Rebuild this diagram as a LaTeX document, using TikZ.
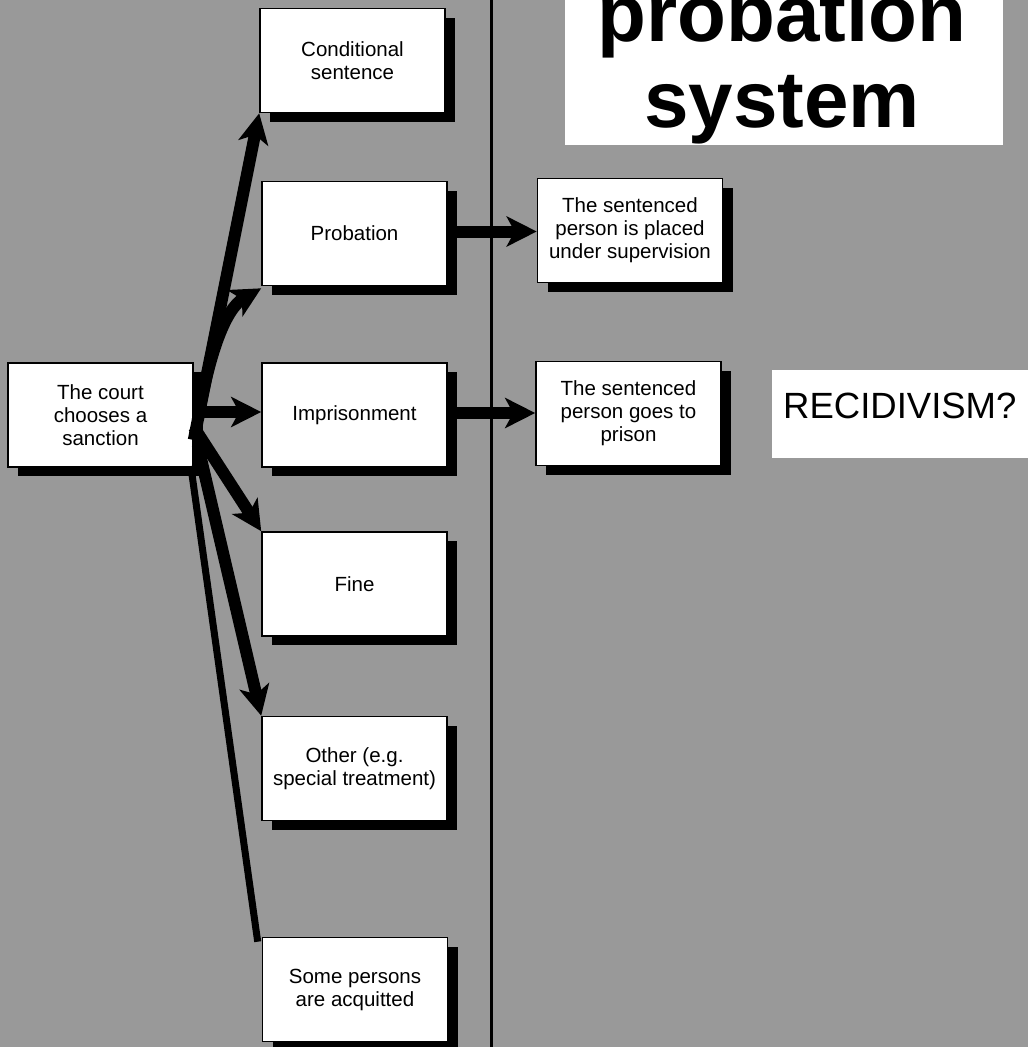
\documentclass[tikz,border=0pt]{standalone}
\usepackage{fontspec}
\setmainfont{Liberation Sans}
\usetikzlibrary{arrows.meta,shadows}
\definecolor{bg}{gray}{0.6}
\begin{document}
\begin{tikzpicture}[x=1pt,y=-1pt,
  box/.style={draw=black, line width=1.6pt, fill=white, minimum width=185pt,
    minimum height=104pt, inner sep=0pt, align=center,
    font=\fontsize{20.5}{23}\selectfont,
    drop shadow={shadow xshift=10pt, shadow yshift=-9pt, fill=black, opacity=1}},
  fat/.style={line width=12pt, -{Stealth[length=30pt,width=30pt,inset=8pt]}},
  plate/.style={fill=white, inner sep=0pt},
]
\useasboundingbox (0,0) rectangle (1028,1047);
\clip (0,0) rectangle (1028,1047);
\fill[bg] (0,0) rectangle (1028,1047);

% divider
\coordinate (dtop) at (491,0);
\coordinate (dbot) at (491,1047);
\draw[line width=3pt] (dtop) -- (dbot);

% title plate
\node[plate, minimum width=438pt, minimum height=160pt] (titlebox) at (784,65) {};
\node[anchor=base, inner sep=0pt, font=\fontsize{80}{80}\selectfont\bfseries] (t1) at (782,41) {probation};
\node[anchor=base, inner sep=0pt, font=\fontsize{80}{80}\selectfont\bfseries] (t2) at (782,127) {system};

% recidivism plate
\node[plate, anchor=west, minimum width=270pt, minimum height=88pt] (recbox) at (772,414) {};
\node[anchor=base west, inner sep=0pt, font=\fontsize{36.5}{40}\selectfont] (rec) at (783,418) {RECIDIVISM?};

% boxes
\node[box] (court) at (100.5,415) {The court\\chooses a\\sanction};
\node[box] (cond) at (352.5,60.5) {Conditional\\sentence};
\node[box] (prob) at (354.5,233.5) {Probation};
\node[box] (impr) at (354.5,415) {Imprisonment};
\node[box] (fine) at (354.5,584) {Fine};
\node[box] (other) at (354.5,768.5) {Other (e.g.\\special treatment)};
\node[box] (acq) at (355,989.5) {Some persons\\are acquitted};
\node[box] (sup) at (630,230.5) {The sentenced\\person is placed\\under supervision};
\node[box] (pris) at (628.5,413.5) {The sentenced\\person goes to\\prison};

% connectors from the court
\draw[fat] ([yshift=-25pt]court.east) -- (cond.south west);
\draw[fat] ([xshift=4pt,yshift=-5pt]court.east) .. controls +(12,-70) and +(-35,20) .. ([yshift=-2pt]prob.south west);
\draw[fat] ([yshift=3pt]court.east) -- ([yshift=3pt]impr.west);
\draw[fat] ([yshift=-12pt]court.east) -- (fine.north west);
\draw[fat] ([xshift=4pt,yshift=-30pt]court.east) -- (other.north west);
\draw[line width=7pt] ([xshift=-3pt,yshift=-51pt]court.east) -- ([xshift=-4pt,yshift=-5pt]acq.north west);

% connectors to the right
\draw[fat] ([xshift=8pt,yshift=2pt]prob.east) -- ([yshift=2pt]prob.east -| sup.west);
\draw[fat] ([xshift=8pt,yshift=2pt]impr.east) -- ([yshift=2pt]impr.east -| pris.west);
\end{tikzpicture}
\end{document}
